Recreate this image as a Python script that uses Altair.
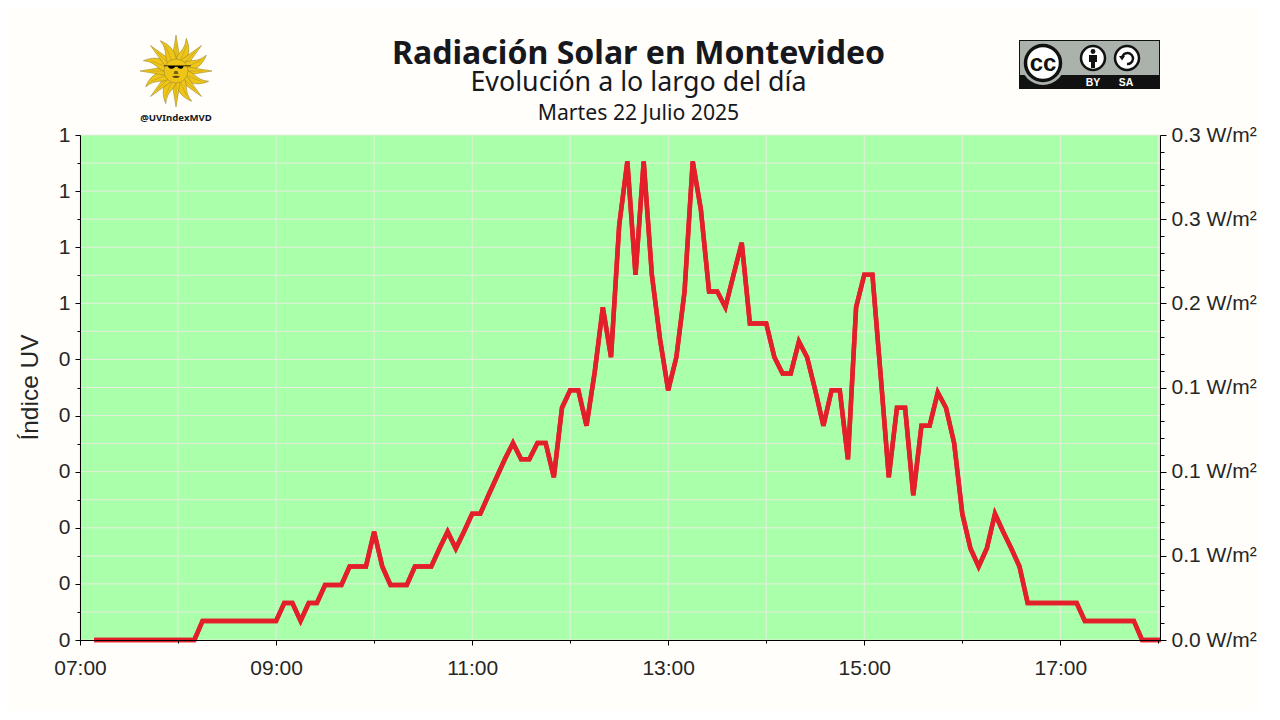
import math
from urllib.parse import quote
import altair as alt
import pandas as pd

TITLE = "Radiación Solar en Montevideo"
SUBTITLE = "Evolución a lo largo del día"
DATE = "Martes 22 Julio 2025"
HANDLE = "@UVIndexMVD"

START_MINUTE = 430  # 07:10
STEP_MINUTES = 5
uv = [0.0] * 13 + [0.034] * 10 + [
    .066, .066, .034, .066, .066, .098, .098, .098, .131, .131, .131,
    .193, .131, .098, .098, .098, .131, .131, .131, .163, .193, .163, .193,
    .225, .225, .258, .290, .322, .351, .322, .322, .351, .351, .290, .414,
    .445, .445, .382, .477, .593, .504, .739, .853, .651, .853, .651, .536,
    .445, .504, .621, .853, .767, .621, .621, .593, .651, .708, .564, .564,
    .564, .504, .475, .475, .532, .504, .445, .382, .445, .445, .322, .593,
    .651, .651, .473, .290, .414, .414, .258, .382, .382, .441, .414, .351,
    .225, .163, .131, .163, .225, .193, .163, .131,
    .066, .066, .066, .066, .066, .066, .066,
    .034, .034, .034, .034, .034, .034, .034,
    0.0, 0.0, 0.0,
]
minutes = [START_MINUTE + STEP_MINUTES * i for i in range(len(uv))]
watts = [v / 3 for v in uv]
df = pd.DataFrame({"minute": minutes, "uv": uv, "watts": watts})

x_ticks = [420 + 60 * i for i in range(12)]
x_labels = ["07:00", "", "09:00", "", "11:00", "", "13:00", "", "15:00", "", "17:00", ""]
left_ticks = [i * 0.05 for i in range(19)]
left_labels = ["0", "0", "0", "0", "0", "0", "1", "1", "1", "1"]
right_ticks = [i * 0.01 for i in range(31)]
right_labels = ["0.0", "0.1", "0.1", "0.1", "0.2", "0.3", "0.3"]

BG = "#FFFEFA"
PLOT = "#AAFFAA"
GRID = "#E6EEDD"
RED = "#E31F2B"
INK = "#262626"
AXIS_FONT = "Liberation Sans"
TEXT_FONT = "Noto Sans"


def js(values):
    return "[" + ",".join("'%s'" % v for v in values) + "]"


x_axis = alt.Axis(
    values=x_ticks, title=None, grid=False,
    labelExpr=js(x_labels) + "[round((datum.value-420)/60)]",
    labelFont=AXIS_FONT, labelFontSize=21, labelColor=INK, labelPadding=12, labelOverlap=False,
    labelFlush=False, domainColor="black", tickColor="black", zindex=1,
    tickSize={"condition": {"test": "(round((datum.value-420)/60))%2==0", "value": 5}, "value": 3},
)
left_axis = alt.Axis(
    orient="left", values=left_ticks, title="Índice UV", grid=False,
    labelExpr="(round(datum.value*100)%10==0 ? " + js(left_labels) + "[round(datum.value*10)] : '')",
    labelFont=AXIS_FONT, labelFontSize=21, labelColor=INK, labelPadding=5, labelOverlap=False,
    domainColor="black", tickColor="black", zindex=1,
    tickSize={"condition": {"test": "round(datum.value*100)%10==0", "value": 5}, "value": 3},
    titleFont=AXIS_FONT, titleFontSize=24.5, titleFontWeight="normal", titleColor=INK,
    titleX=-38, titleY=252, titleAlign="center",
)
right_axis = alt.Axis(
    orient="right", values=right_ticks, title=None, grid=False,
    labelExpr="(round(datum.value*100)%5==0 ? " + js(right_labels) + "[round(datum.value*20)] + ' W/m²' : '')",
    labelFont=AXIS_FONT, labelFontSize=21, labelColor=INK, labelPadding=5, labelOverlap=False,
    domainColor="black", tickColor="black", zindex=1,
    tickSize={"condition": {"test": "round(datum.value*100)%5==0", "value": 6}, "value": 4},
)

x_scale = alt.Scale(domain=[420, 1081], nice=False, zero=False)
x_enc = alt.X("minute:Q", scale=x_scale, axis=x_axis)
left_scale = alt.Scale(domain=[0, 0.9], nice=False)

grid_v = alt.Chart(pd.DataFrame({"minute": x_ticks})).mark_rule(color=GRID, strokeWidth=1).encode(
    x=x_enc,
)
grid_h = alt.Chart(pd.DataFrame({"uv": left_ticks})).mark_rule(color=GRID, strokeWidth=1).encode(
    y=alt.Y("uv:Q", scale=left_scale, axis=None),
)

line_kw = dict(color=RED, strokeWidth=4.5, strokeCap="square", strokeJoin="miter", interpolate="linear")
left_line = alt.Chart(df).mark_line(**line_kw).encode(
    x=x_enc,
    y=alt.Y("uv:Q", scale=left_scale, axis=left_axis),
)
right_line = alt.Chart(df).mark_line(**line_kw).encode(
    x=x_enc,
    y=alt.Y("watts:Q", scale=alt.Scale(domain=[0, 0.3], nice=False), axis=right_axis),
)


def text(s, cx, base, size, font=TEXT_FONT, weight="normal", color="#16181D"):
    return alt.Chart(alt.Data(values=[{"t": s}])).mark_text(
        font=font, fontSize=size, fontWeight=weight, color=color,
        align="center", baseline="alphabetic",
    ).encode(x=alt.value(cx - 80), y=alt.value(base - 135), text="t:N")


def image(svg, left, top, w, h):
    uri = "data:image/svg+xml," + quote(svg)
    return alt.Chart(alt.Data(values=[{"u": uri}])).mark_image(
        width=w, height=h, align="left", baseline="top",
    ).encode(x=alt.value(left - 80), y=alt.value(top - 135), url="u:N")


def sun_svg():
    fill, edge = "#EFC518", "#8F7E2C"
    rays = []
    for i in range(16):
        a = i * 22.5
        if i % 2 == 0:
            d = "M-4.5,-9 L0,-36 L4.5,-9 Z"
        else:
            d = "M-4.5,-9 C-6.5,-17 1,-22 -3,-34 C4.5,-27 7,-18 4.5,-9 Z"
        rays.append(f'<path d="{d}" transform="rotate({a})" fill="{fill}" stroke="{edge}" stroke-width="0.5"/>')
        rays.append(f'<path d="M0,-11 L0,-27" transform="rotate({a})" stroke="{edge}" stroke-width="0.3"/>')
    face = (
        f'<circle r="12" fill="{fill}" stroke="{edge}" stroke-width="0.5"/>'
        '<path d="M-12,-5.5 L15,-5.5 L15,-4.8 L7.5,-4.8 C7,-1.5 2.5,-1.5 1.5,-4.2 L-1,-4.2 '
        'C-2,-1.5 -7,-1.5 -8,-4.8 L-12,-4.8 Z" fill="#000"/>'
        '<path d="M-1.5,0 L-2.5,3 L2.5,3 L1.5,0 Z" fill="#7A5F10"/>'
        '<path d="M-4,5.5 Q0,4 4,5.5 Q0,8.5 -4,5.5 Z" fill="#5A4510"/>'
    )
    return ('<svg xmlns="http://www.w3.org/2000/svg" width="74" height="74" viewBox="-37 -37 74 74">'
            + "".join(rays) + face + "</svg>")


def cc_svg():
    return (
        '<svg xmlns="http://www.w3.org/2000/svg" width="141" height="49" viewBox="0 0 141 49">'
        '<rect x="0.5" y="0.5" width="140" height="48" fill="#AAB2AB" stroke="#111"/>'
        '<rect x="0" y="35" width="141" height="14" fill="#111"/>'
        '<circle cx="24" cy="23" r="22" fill="#AAB2AB"/>'
        '<circle cx="24" cy="23" r="17.5" fill="#fff" stroke="#111" stroke-width="3.5"/>'
        '<circle cx="74" cy="18" r="12" fill="#fff" stroke="#111" stroke-width="2.5"/>'
        '<circle cx="74" cy="11.5" r="2.4" fill="#111"/>'
        '<path d="M70,15 H78 V22 H76 V28 H72 V22 H70 Z" fill="#111"/>'
        '<circle cx="108" cy="18" r="12" fill="#fff" stroke="#111" stroke-width="2.5"/>'
        '<path d="M103,18 A5.5,5.5 0 1 1 108,24" fill="none" stroke="#111" stroke-width="2.4"/>'
        '<path d="M100,16 L106,16 L103,20.5 Z" fill="#111"/>'
        '</svg>'
    )


decor = [
    text(TITLE, 638.5, 64, 32.1, weight="bold"),
    text(SUBTITLE, 638.5, 91, 26.8),
    text(DATE, 638.5, 120, 21.2),
    image(sun_svg(), 139, 34, 74, 74),
    text(HANDLE, 176, 121, 9.6, weight="bold"),
    image(cc_svg(), 1019, 40, 141, 49),
    text("cc", 1043, 71, 24, font=AXIS_FONT, weight="bold", color="#111"),
    text("BY", 1093, 86, 10.5, font=AXIS_FONT, weight="bold", color="#fff"),
    text("SA", 1126, 86, 10.5, font=AXIS_FONT, weight="bold", color="#fff"),
]

chart = alt.layer(grid_v, grid_h, left_line, right_line, *decor).resolve_scale(y="independent").properties(
    width=1080, height=505, background=BG,
    padding={"left": 72, "top": 127, "right": 100, "bottom": 70},
    autosize=alt.AutoSizeParams(type="none"),
).configure_view(fill=PLOT, stroke=None)

chart.save("out.html", embed_options={"renderer": "svg", "actions": False})
